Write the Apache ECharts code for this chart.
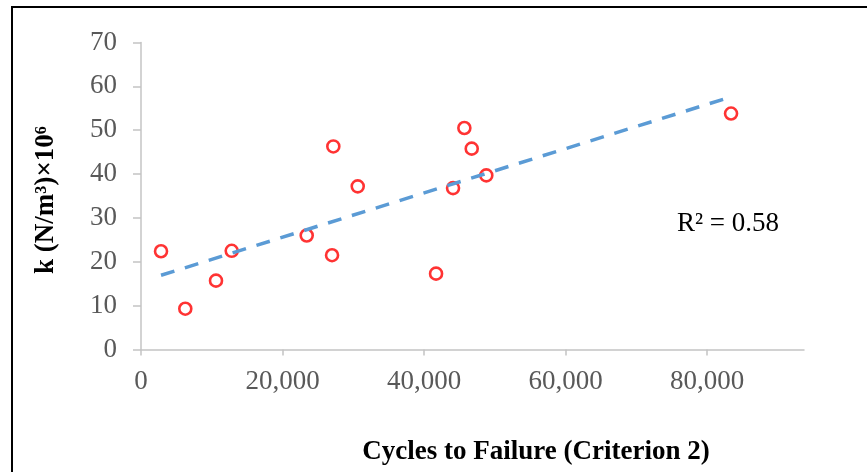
<!DOCTYPE html>
<html>
<head>
<meta charset="utf-8">
<style>
  html, body { margin: 0; padding: 0; background: #fff; }
  #chart { width: 867px; height: 472px; }
</style>
<script src="https://cdn.jsdelivr.net/npm/echarts@6/dist/echarts.min.js"></script>
</head>
<body>
<div id="chart"></div>
<script>
// Cycles to failure and subgrade modulus k (×10^6 N/m³) per specimen
const cycles  = [2830, 6260, 10600, 12820, 23420, 27000, 27180, 30630, 41700, 44100, 45700, 46740, 48800, 83390];
const kValues = [22.4, 9.3, 15.7, 22.5, 26.0, 21.5, 46.3, 37.2, 17.3, 36.8, 50.5, 45.8, 39.7, 53.8];

// Axis tick labels
const xTicks = [0, 20000, 40000, 60000, 80000];
const yTicks = [0, 10, 20, 30, 40, 50, 60, 70];

const xTitle = 'Cycles to Failure (Criterion 2)';
const yTitle = 'k (N/m³)×10⁶';

// Least-squares linear trend over the measured points
const n = cycles.length;
const mx = cycles.reduce((a, b) => a + b, 0) / n;
const my = kValues.reduce((a, b) => a + b, 0) / n;
let sxx = 0, sxy = 0, syy = 0;
for (let i = 0; i < n; i++) {
  const dx = cycles[i] - mx, dy = kValues[i] - my;
  sxx += dx * dx; sxy += dx * dy; syy += dy * dy;
}
const slope = sxy / sxx;
const intercept = my - slope * mx;
const r2 = (sxy * sxy) / (sxx * syy);
const xMin = Math.min(...cycles), xMax = Math.max(...cycles);
const trend = [[xMin, intercept + slope * xMin], [xMax, intercept + slope * xMax]];

const points = cycles.map((c, i) => [c, kValues[i]]);

const serif = '"Liberation Serif", "Times New Roman", serif';
const axisGray = '#c4c4c4';
const labelGray = '#595959';

const chart = echarts.init(document.getElementById('chart'), null, { renderer: 'canvas' });
chart.setOption({
  animation: false,
  backgroundColor: '#fff',
  grid: { left: 141, right: 63, top: 42.5, bottom: 122.5, containLabel: false },
  xAxis: {
    type: 'value',
    min: 0,
    max: 93700,
    interval: 20000,
    splitLine: { show: false },
    axisLine: { show: true, onZero: false, lineStyle: { color: axisGray, width: 1.5 } },
    axisTick: { show: true, inside: false, length: 6, customValues: xTicks, lineStyle: { color: axisGray, width: 1.5 } },
    axisLabel: {
      customValues: xTicks,
      margin: 19,
      color: labelGray,
      fontFamily: serif,
      fontSize: 27,
      formatter: v => Number(v).toLocaleString('en-US')
    }
  },
  yAxis: {
    type: 'value',
    min: 0,
    max: 70,
    interval: 10,
    splitLine: { show: false },
    axisLine: { show: true, onZero: false, lineStyle: { color: axisGray, width: 1.5 } },
    axisTick: { show: true, inside: false, length: 8, customValues: yTicks, lineStyle: { color: axisGray, width: 1.5 } },
    axisLabel: {
      customValues: yTicks,
      margin: 24,
      color: labelGray,
      fontFamily: serif,
      fontSize: 27
    }
  },
  series: [
    {
      name: 'k',
      type: 'scatter',
      data: points,
      symbol: 'circle',
      symbolSize: 12,
      itemStyle: { color: '#ffffff', borderColor: '#ff0000', borderWidth: 2.6 },
      z: 2
    },
    {
      name: 'Linear trend',
      type: 'line',
      data: trend,
      symbol: 'none',
      lineStyle: { color: '#5b9bd5', width: 3.5, type: [14, 11] },
      z: 3
    }
  ],
  graphic: [
    {
      type: 'rect',
      shape: { x: 12, y: 7, width: 900, height: 520 },
      style: { fill: 'none', stroke: '#000', lineWidth: 2 },
      silent: true
    },
    {
      type: 'text',
      x: 536, y: 452,
      style: {
        text: xTitle, fontFamily: serif, fontSize: 27, fontWeight: 'bold',
        fill: '#000', textAlign: 'center', textVerticalAlign: 'middle'
      }
    },
    {
      type: 'text',
      x: 46, y: 200,
      rotation: Math.PI / 2,
      style: {
        text: yTitle, fontFamily: serif, fontSize: 27, fontWeight: 'bold',
        fill: '#000', textAlign: 'center', textVerticalAlign: 'middle'
      }
    },
    {
      type: 'text',
      x: 677, y: 224,
      style: {
        text: 'R² = ' + r2.toFixed(2), fontFamily: serif, fontSize: 27,
        fill: '#000', textAlign: 'left', textVerticalAlign: 'middle'
      }
    }
  ]
});
</script>
</body>
</html>
